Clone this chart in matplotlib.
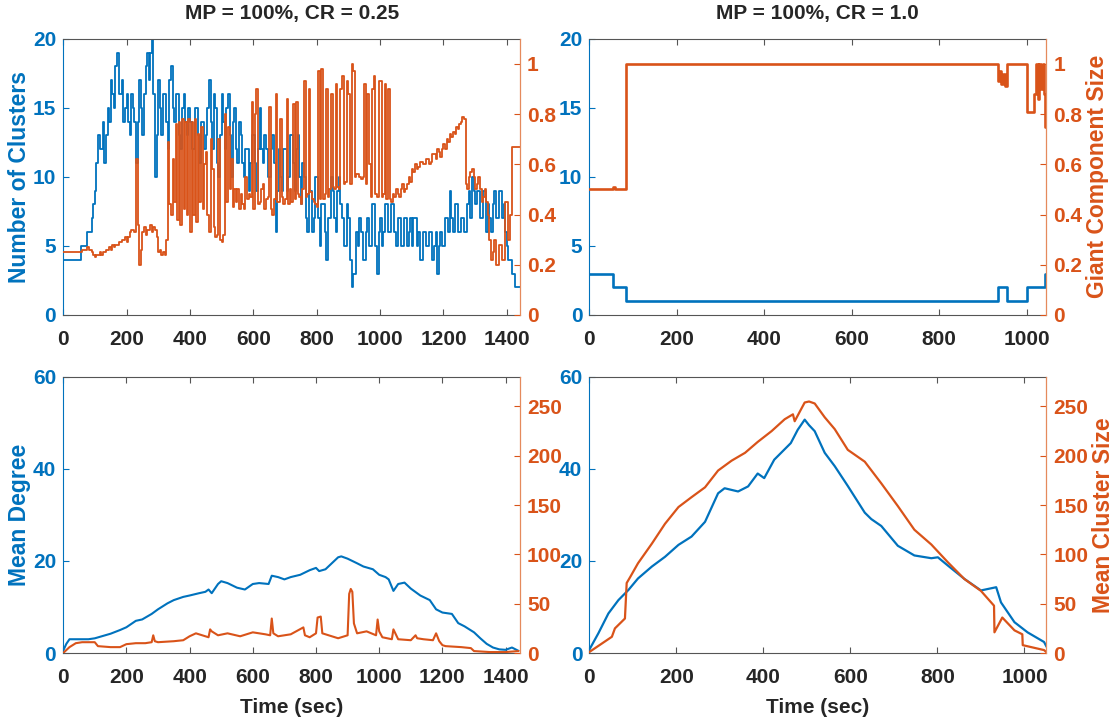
#!/usr/bin/env python
import numpy as np
import matplotlib
matplotlib.use("Agg")
import matplotlib.pyplot as plt
from matplotlib import font_manager

# ---------------------------------------------------------------------------------
# data
# top-left: MP = 100%, CR = 0.25  (sampled every 5 s)
tl_time = np.arange(0, 1445, 5)
tl_clusters = [4, 4, 4, 4, 4, 4, 4, 4, 4, 4,
               4, 5, 5, 5, 5, 6, 6, 6, 7, 8,
               9, 11, 13, 12, 12, 14, 11, 13, 15, 14,
               17, 16, 15, 18, 19, 16, 16, 17, 14, 15,
               16, 14, 13, 16, 15, 14, 11, 14, 17, 15,
               13, 16, 18, 19, 17, 19, 20, 16, 10, 13,
               17, 15, 13, 16, 16, 14, 12, 17, 18, 15,
               14, 16, 16, 13, 12, 15, 16, 14, 13, 15,
               14, 12, 12, 15, 15, 13, 11, 14, 14, 12,
               13, 15, 17, 14, 12, 16, 15, 11, 10, 13,
               16, 14, 12, 15, 16, 13, 10, 14, 15, 12,
               11, 14, 13, 11, 10, 12, 12, 9, 11, 13,
               13, 11, 9, 12, 15, 12, 11, 13, 12, 10,
               10, 12, 13, 11, 6, 9, 12, 10, 9, 12,
               12, 9, 10, 13, 13, 11, 9, 12, 13, 10,
               8, 11, 10, 7, 6, 9, 9, 6, 7, 10,
               10, 7, 5, 8, 8, 6, 4, 7, 7, 10,
               9, 7, 6, 9, 10, 8, 7, 5, 5, 8,
               7, 4, 2, 3, 3, 6, 5, 7, 6, 4,
               4, 6, 7, 5, 5, 8, 8, 5, 3, 6,
               7, 5, 6, 8, 8, 6, 6, 8, 8, 6,
               5, 7, 7, 5, 5, 7, 7, 5, 6, 7,
               5, 7, 7, 5, 6, 4, 4, 6, 6, 5,
               5, 6, 6, 4, 5, 6, 3, 5, 6, 5,
               5, 7, 7, 6, 9, 7, 6, 8, 8, 6,
               6, 7, 7, 6, 6, 8, 9, 7, 10, 9,
               8, 9, 9, 7, 7, 9, 9, 6, 8, 7,
               6, 8, 9, 7, 7, 9, 9, 7, 8, 6,
               5, 4, 4, 3, 3, 2, 2, 2, 2]
tl_giant = [.25, .25, .25, .25, .25, .25, .25, .25, .25, .25,
            .25, .25, .26, .26, .26, .27, .26, .26, .25, .24,
            .23, .24, .24, .25, .24, .25, .25, .26, .26, .27,
            .26, .28, .27, .28, .28, .29, .29, .30, .30, .31,
            .29, .31, .33, .34, .34, .33, .62, .36, .20, .26,
            .33, .35, .32, .34, .34, .36, .33, .35, .34, .31,
            .25, .26, .24, .25, .24, .30, .69, .44, .40, .62,
            .45, .76, .38, .77, .36, .78, .42, .77, .40, .78,
            .33, .77, .40, .78, .37, .72, .45, .75, .42, .60,
            .65, .40, .33, .70, .58, .35, .31, .32, .70, .30,
            .29, .32, .80, .45, .75, .50, .62, .43, .50, .45,
            .50, .42, .48, .44, .42, .55, .46, .48, .47, .85,
            .42, .80, .90, .44, .45, .50, .52, .42, .46, .47,
            .83, .42, .40, .46, .88, .45, .45, .78, .47, .44,
            .46, .86, .44, .50, .45, .84, .46, .85, .48, .47,
            .44, .50, .93, .47, .48, .90, .49, .46, .45, .44,
            .43, .97, .46, .98, .46, .48, .90, .47, .50, .88,
            .51, .50, .92, .51, .50, .90, .95, .52, .53, .93,
            .88, .52, 1.0, .97, .55, .56, .56, .55, .54, .55,
            .92, .52, .88, .60, .47, .90, .95, .48, .47, .93,
            .93, .47, .48, .92, .46, .90, .46, .45, .48, .47,
            .50, .48, .47, .50, .52, .49, .50, .52, .55, .53,
            .58, .57, .60, .58, .59, .61, .61, .60, .60, .62,
            .62, .60, .61, .64, .64, .62, .66, .65, .63, .66,
            .68, .66, .70, .69, .72, .71, .73, .72, .75, .74,
            .76, .77, .79, .78, .52, .50, .55, .57, .58, .55,
            .50, .52, .55, .50, .45, .47, .50, .45, .40, .30,
            .22, .25, .30, .20, .20, .28, .28, .22, .22, .45,
            .45, .30, .40, .67, .67, .67, .67, .67, .67]

# top-right: MP = 100%, CR = 1.0
tr_time_c = [0, 55, 84, 934, 955, 1000, 1041, 1045]
tr_clusters = [3, 2, 1, 2, 1, 2, 3, 3]
tr_time_g = [0, 55, 58, 84, 934, 938, 942, 946, 950, 955, 1000, 1016, 1022, 1026, 1029, 1033, 1037, 1040, 1043, 1045]
tr_giant = [0.5, 0.51, 0.5, 1.0, 0.93, 0.97, 0.92, 0.96, 0.91, 1.0, 0.81, 0.88, 1.0, 0.86, 1.0, 0.9, 1.0, 0.88, 0.75, 0.75]

# bottom-left: mean degree / mean cluster size, CR = 0.25
bl_time_d = [0, 10, 20, 40, 60, 80, 100, 130, 150, 180, 200, 230, 250, 280, 300, 330, 350, 380, 400, 430,
             450, 460, 470, 490, 500, 520, 550, 575, 600, 620, 650, 660, 680, 700, 720, 750, 780, 800, 810, 830,
             850, 870, 880, 900, 930, 950, 980, 1000, 1020, 1030, 1045, 1060, 1080, 1100, 1130, 1160, 1180, 1200,
             1230, 1250, 1270, 1300, 1320, 1340, 1360, 1380, 1400, 1420, 1440]
bl_degree = [0.5, 2, 3, 3, 3, 3, 3.2, 3.8, 4.2, 5, 5.6, 7, 7.3, 8.5, 9.5, 10.8, 11.5, 12.2, 12.5, 13,
             13.3, 13.8, 13, 15, 15.6, 15.2, 14.2, 13.8, 15, 15.2, 15, 16.8, 16.5, 16, 16.5, 17, 18, 18.5, 17.8, 18.2,
             19.5, 20.8, 21, 20.5, 19.5, 18.8, 18.2, 17, 16.5, 16, 13.5, 15, 15.3, 14, 12.5, 11.5, 9.5, 8.8,
             8.5, 6.5, 5.8, 4.5, 3.2, 2, 1.2, 0.8, 0.7, 1.2, 0.5]
bl_time_s = [0, 20, 40, 60, 100, 110, 150, 180, 200, 230, 260, 280, 285, 290, 300, 350, 380, 400, 420, 440,
             460, 465, 470, 490, 520, 560, 600, 640, 655, 660, 665, 680, 720, 760, 765, 780, 800, 805, 815, 820,
             840, 870, 900, 905, 910, 915, 920, 930, 960, 990, 995, 1000, 1010, 1040, 1045, 1060, 1100, 1115, 1120,
             1140, 1170, 1180, 1190, 1200, 1210, 1260, 1290, 1300, 1350, 1400, 1440]
bl_size = [0, 6, 10, 11, 11, 7, 6, 6, 9, 10, 10, 11, 18, 12, 11, 12, 13, 17, 20, 18,
           16, 24, 22, 18, 20, 17, 21, 19, 18, 35, 20, 17, 19, 26, 18, 16, 20, 36, 37, 20,
           18, 15, 18, 60, 65, 62, 30, 20, 22, 18, 34, 22, 16, 14, 24, 14, 13, 18, 15,
           14, 13, 20, 12, 8, 7, 6, 5, 2, 1, 1, 2]

# bottom-right: mean degree / mean cluster size, CR = 1.0
br_time_d = [0, 21, 44, 67, 90, 112, 144, 174, 205, 235, 266, 296, 311, 342, 365, 387, 402, 425, 463, 479,
             495, 505, 518, 541, 564, 594, 633, 648, 671, 709, 747, 786, 801, 824, 862, 900, 935, 946, 977, 1007,
             1045, 1050]
br_degree = [0.7, 4.3, 8.6, 11.5, 13.7, 16.2, 18.8, 20.9, 23.5, 25.3, 28.5, 34.7, 35.8, 35.1, 36.2, 39, 38, 42, 45.6, 48.5,
             50.7, 49.5, 48.2, 43.5, 40.6, 36.3, 30.5, 29.1, 27.6, 23.3, 21.2, 20.6, 20.8, 19, 16.1, 13.6, 14.3, 11, 6.7, 4.5,
             2.4, 1.5]
br_time_s = [0, 52, 59, 82, 86, 94, 112, 144, 174, 205, 235, 266, 296, 327, 358, 387, 419, 449, 468, 472,
             495, 505, 518, 541, 564, 594, 633, 671, 709, 747, 786, 824, 862, 900, 930, 931, 949, 977, 995, 996,
             1045, 1050]
br_size = [1, 16.5, 25, 35, 71, 77, 91, 111, 131, 148, 158, 168, 185, 195, 203, 214, 225, 237, 242, 235,
           254, 255, 253, 239, 227, 206, 194, 172, 149, 125, 110, 92, 75, 63, 48, 21, 36, 23, 19, 8,
           3, 1]

# ---------------------------------------------------------------------------------
blue = '#0072BD'
orange = '#D95319'
dark = '#262626'

names = {f.name for f in font_manager.fontManager.ttflist}
narrow = 'Liberation Sans Narrow' if 'Liberation Sans Narrow' in names else 'Liberation Sans'
wide = 'Liberation Sans'
plt.rcParams['font.family'] = [narrow, 'DejaVu Sans']
plt.rcParams['font.weight'] = 'bold'

fig = plt.figure(figsize=(11.16, 7.24), dpi=100)

cols = [0.0566, 0.5280]
rows = [0.5650, 0.0980]
w, h = 0.4095, 0.3815


def make_axes(col, row, xmax, xticks, yleft, yright, yticks_l, yticks_r, yticklabels_r):
    ax = fig.add_axes([cols[col], rows[row], w, h])
    ax2 = ax.twinx()
    ax.set_xlim(0, xmax)
    ax.set_ylim(*yleft)
    ax2.set_ylim(*yright)
    ax.set_xticks(xticks)
    ax.set_yticks(yticks_l)
    ax2.set_yticks(yticks_r)
    ax2.set_yticklabels(yticklabels_r)
    ax.tick_params(axis='x', direction='in', top=True, length=4, width=0.8,
                   colors='#555555', labelcolor=dark, labelsize=15, pad=11)
    ax.tick_params(axis='y', direction='in', length=4, width=0.8,
                   colors=blue, labelsize=15, pad=5)
    ax2.tick_params(axis='y', direction='in', length=4, width=0.8,
                    colors=orange, labelsize=15, pad=5)
    for lab in ax.get_xticklabels() + ax.get_yticklabels() + ax2.get_yticklabels():
        lab.set_fontweight('bold')
    for s in ['top', 'bottom']:
        ax.spines[s].set_color('#555555')
        ax2.spines[s].set_visible(False)
    ax.spines['left'].set_color(blue)
    ax.spines['right'].set_visible(False)
    ax2.spines['left'].set_visible(False)
    ax2.spines['right'].set_color('#E58A5C')
    for s in ax.spines.values():
        s.set_linewidth(0.8)
    ax2.spines['right'].set_linewidth(0.9)
    return ax, ax2


# top-left
ax, ax2 = make_axes(0, 0, 1442, range(0, 1401, 200), (0, 20), (0, 1.1),
                    [0, 5, 10, 15, 20], [0, 0.2, 0.4, 0.6, 0.8, 1.0], ['0', '0.2', '0.4', '0.6', '0.8', '1'])
ax.plot(tl_time, tl_clusters, color=blue, lw=1.3, drawstyle='steps-post')
ax2.plot(tl_time, tl_giant, color=orange, lw=1.3, drawstyle='steps-post')
ax.set_ylabel('Number of Clusters', color=blue, fontsize=16.5, fontweight='bold',
              family=[wide, 'DejaVu Sans'], labelpad=1.5)
ax.set_title('MP = 100%, CR = 0.25', color=dark, fontsize=15, fontweight='bold', pad=14)

# top-right
ax, ax2 = make_axes(1, 0, 1045, range(0, 1001, 200), (0, 20), (0, 1.1),
                    [0, 5, 10, 15, 20], [0, 0.2, 0.4, 0.6, 0.8, 1.0], ['0', '0.2', '0.4', '0.6', '0.8', '1'])
ax.plot(tr_time_c, tr_clusters, color=blue, lw=1.9, drawstyle='steps-post')
ax2.plot(tr_time_g, tr_giant, color=orange, lw=1.9, drawstyle='steps-post')
ax2.set_ylabel('Giant Component Size', color=orange, fontsize=16.5, fontweight='bold',
               family=[wide, 'DejaVu Sans'], labelpad=3)
ax.set_title('MP = 100%, CR = 1.0', color=dark, fontsize=15, fontweight='bold', pad=14)

# bottom-left
ax, ax2 = make_axes(0, 1, 1446, range(0, 1401, 200), (0, 60), (0, 280),
                    [0, 20, 40, 60], [0, 50, 100, 150, 200, 250], ['0', '50', '100', '150', '200', '250'])
ax.plot(bl_time_d, bl_degree, color=blue, lw=1.5)
ax2.plot(bl_time_s, bl_size, color=orange, lw=1.5)
ax.set_ylabel('Mean Degree', color=blue, fontsize=16.5, fontweight='bold',
              family=[wide, 'DejaVu Sans'], labelpad=1.5)
ax.set_xlabel('Time (sec)', color=dark, fontsize=15, fontweight='bold', labelpad=8)

# bottom-right
ax, ax2 = make_axes(1, 1, 1050, range(0, 1001, 200), (0, 60), (0, 280),
                    [0, 20, 40, 60], [0, 50, 100, 150, 200, 250], ['0', '50', '100', '150', '200', '250'])
ax.plot(br_time_d, br_degree, color=blue, lw=1.6)
ax2.plot(br_time_s, br_size, color=orange, lw=1.6)
ax2.set_ylabel('Mean Cluster Size', color=orange, fontsize=16.5, fontweight='bold',
               family=[wide, 'DejaVu Sans'], labelpad=3)
ax.set_xlabel('Time (sec)', color=dark, fontsize=15, fontweight='bold', labelpad=8)

plt.savefig('out.png', dpi=100)
